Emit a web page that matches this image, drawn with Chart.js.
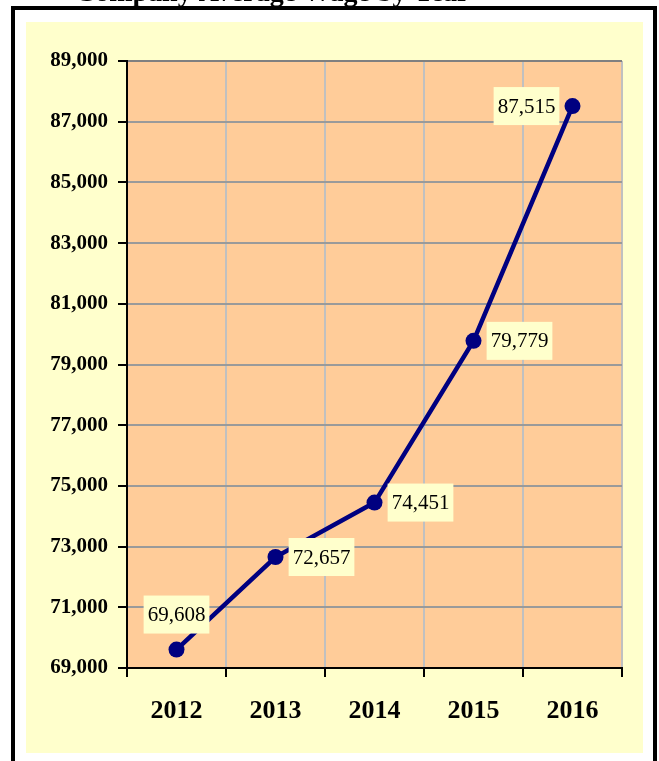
<!DOCTYPE html>
<html>
<head>
<meta charset="utf-8">
<script src="https://cdn.jsdelivr.net/npm/chart.js@4"></script>
<style>
  body { margin: 0; background: #fff; }
  canvas { display: block; }
</style>
</head>
<body>
<canvas id="mychart" width="659" height="761"></canvas>
<script>
// data
const years = ['2012', '2013', '2014', '2015', '2016'];
const values = [69608, 72657, 74451, 79779, 87515];
const yMin = 69000;
const yMax = 89000;
const yStep = 2000;
const titleText = 'Company Average Wage by Year';

// where each value label sits next to its point
const labelSide = ['above', 'right', 'right', 'right', 'left'];

const serif = '"Liberation Serif", "Times New Roman", serif';

// white page, black frame, cream panel, peach plot area
const bgPlugin = {
    id: 'bg',
    beforeDraw(chart) {
        const ctx = chart.ctx;
        const a = chart.chartArea;
        ctx.save();
        ctx.fillStyle = '#fff';
        ctx.fillRect(0, 0, 659, 761);

        // title is cut off by the top edge of the page
        ctx.fillStyle = '#000';
        ctx.font = 'bold 28px ' + serif;
        ctx.textAlign = 'left';
        ctx.textBaseline = 'alphabetic';
        ctx.fillText(titleText, 75, 1);

        ctx.fillRect(11, 6, 4, 761);
        ctx.fillRect(653, 6, 4, 761);
        ctx.fillRect(11, 6, 646, 4);

        ctx.fillStyle = '#FFFFCC';
        ctx.fillRect(26, 22, 617, 731);

        ctx.fillStyle = '#FFCC99';
        ctx.fillRect(a.left, a.top, a.right - a.left, a.bottom - a.top);
        ctx.restore();
    }
};

// boxed value labels
const labelPlugin = {
    id: 'vlabels',
    afterDatasetsDraw(chart) {
        const ctx = chart.ctx;
        const meta = chart.getDatasetMeta(0);
        ctx.save();
        ctx.font = '21px ' + serif;
        ctx.textAlign = 'center';
        ctx.textBaseline = 'middle';
        meta.data.forEach((pt, i) => {
            const txt = values[i].toLocaleString('en-US');
            const w = ctx.measureText(txt).width + 8;
            const h = 38;
            let cx = pt.x, cy = pt.y;
            if (labelSide[i] == 'right') cx += 46;
            if (labelSide[i] == 'left') cx -= 46;
            if (labelSide[i] == 'above') cy -= 35;
            ctx.fillStyle = '#FFFFCC';
            ctx.fillRect(cx - w / 2, cy - h / 2, w, h);
            ctx.fillStyle = '#000';
            ctx.fillText(txt, cx, cy + 1);
        });
        ctx.restore();
    }
};

new Chart(document.getElementById('mychart'), {
    type: 'line',
    data: {
        labels: years,
        datasets: [
            {
                data: values,
                borderColor: '#000080',
                backgroundColor: '#000080',
                borderWidth: 4.5,
                pointRadius: 8,
                pointBorderWidth: 0,
                pointBackgroundColor: '#000080',
                tension: 0,
            },
        ],
    },
    options: {
        responsive: false,
        animation: false,
        layout: { padding: { left: 0, top: 61, right: 37, bottom: 0 } },
        plugins: {
            legend: { display: false },
            tooltip: { enabled: false },
        },
        scales: {
            x: {
                offset: true,
                grid: {
                    offset: true,
                    color: (c) => c.index == years.length ? '#808080' : '#c0c0c0',
                    lineWidth: 2,
                    tickLength: 9,
                    tickColor: '#000',
                    tickWidth: 2,
                },
                border: { color: '#000', width: 2 },
                ticks: {
                    color: '#000',
                    font: { family: serif, weight: 'bold', size: 26 },
                    padding: 19,
                },
                afterFit: (s) => { s.height = 93; },
            },
            y: {
                min: yMin,
                max: yMax,
                grid: {
                    color: (c) => c.tick && c.tick.value == yMax ? '#808080' : '#9a9a9a',
                    lineWidth: 2,
                    tickLength: 9,
                    tickColor: '#000',
                    tickWidth: 2,
                },
                border: { color: '#000', width: 2 },
                ticks: {
                    stepSize: yStep,
                    color: '#000',
                    font: { family: serif, weight: 'bold', size: 21 },
                    padding: 10,
                    callback: (v) => v.toLocaleString('en-US'),
                },
                afterFit: (s) => { s.width = 127; },
            },
        },
    },
    plugins: [bgPlugin, labelPlugin],
});
</script>
</body>
</html>
